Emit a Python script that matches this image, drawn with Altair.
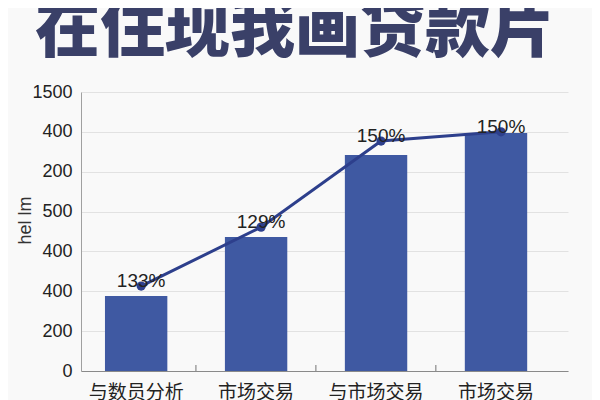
import json
import altair as alt
import pandas as pd

TITLE = "在住现我画贷款片"
categories = ["与数员分析", "市场交易", "与市场交易", "市场交易"]
bar_values = [1.88, 3.36, 5.42, 5.97]
line_values = [2.13, 3.61, 5.77, 6.0]
pct_labels = ["133%", "129%", "150%", "150%"]
y_tick_labels = ["0", "200", "400", "400", "500", "200", "400", "1500"]
y_title = "hel lm"

df = pd.DataFrame({
    "i": list(range(len(categories))),
    "bar": bar_values,
    "line": line_values,
    "pct": pct_labels,
})

W, H = 487, 279
x_label_expr = json.dumps(categories, ensure_ascii=False) + "[datum.value]"
y_label_expr = json.dumps(y_tick_labels) + "[datum.value]"

x = alt.X(
    "i:O",
    title=None,
    scale=alt.Scale(paddingInner=0.48, paddingOuter=0.27, align=0.37),
    axis=alt.Axis(
        labelExpr=x_label_expr, labelAngle=0, ticks=False, labelPadding=12,
        labelFont="Noto Sans CJK SC", labelFontSize=19, labelColor="#222222",
        domainColor="#8a8a8a", domainWidth=1.2, grid=False, labelBaseline="top",
        labelOverlap=False,
    ),
)
y_scale = alt.Scale(domain=[0, 7], nice=False)
y_axis = alt.Axis(
    values=list(range(len(y_tick_labels))), labelExpr=y_label_expr,
    labelOverlap=False, labelBound=False, tickCount=len(y_tick_labels),
    ticks=False, labelPadding=9, labelFont="Liberation Sans",
    labelFontSize=18, labelColor="#222222", gridColor="#e2e2e2",
    domainColor="#a0a0a0", titleFont="Liberation Sans", titleFontSize=18,
    titleFontWeight="normal", titleColor="#333333", titleAngle=270,
    titleX=-56, titleY=128, titleAlign="center", titleBaseline="middle",
)


def y_enc(field):
    return alt.Y(field, type="quantitative", scale=y_scale, title=y_title, axis=y_axis)


bars = alt.Chart(df).mark_bar(color="#3f59a2").encode(x=x, y=y_enc("bar"))

ticks = alt.Chart(df).transform_filter("datum.i > 0").mark_rule(
    color="#8a8a8a", xOffset=-29, strokeWidth=1.2
).encode(
    x=alt.X("i:O", bandPosition=0),
    y=alt.value(H - 6),
    y2=alt.value(H),
)

line = alt.Chart(df).mark_line(
    color="#2d3f8c", strokeWidth=3, xOffset=5
).encode(x=x, y=y_enc("line"))

pts = alt.Chart(df).mark_point(
    filled=True, color="#2d3f8c", size=85, opacity=1, xOffset=5
).encode(x=x, y=y_enc("line"))

labels = alt.Chart(df).mark_text(
    font="Liberation Sans", fontSize=19, color="#222222",
    baseline="alphabetic", dy=1, xOffset=5,
).encode(x=x, y=y_enc("line"), text="pct:N")

title = alt.Chart(pd.DataFrame({"t": [TITLE]})).mark_text(
    font="Noto Sans CJK SC", fontSize=65, fontWeight=900, color="#3a4068",
    baseline="alphabetic", align="center",
).encode(text="t:N", x=alt.value(214), y=alt.value(-41))

chart = alt.layer(bars, ticks, line, pts, labels, title).properties(
    width=W, height=H,
    autosize=alt.AutoSizeParams(type="none"),
    padding={"left": 73, "top": 84, "right": 24, "bottom": 29},
    background="#f9f9f9",
).configure_view(stroke=None)

chart.save("out.html", embed_options={"renderer": "svg", "actions": False})
